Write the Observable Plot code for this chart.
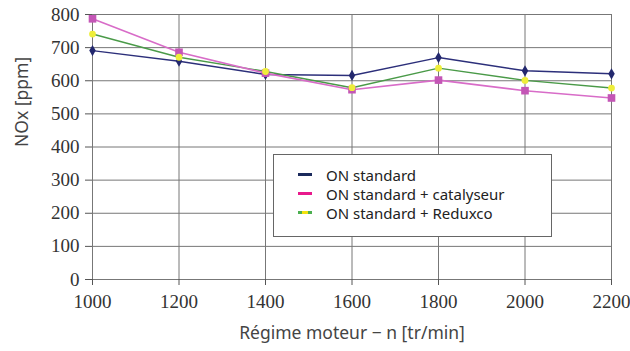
<!DOCTYPE html>
<html>
<head>
<meta charset="utf-8">
<script src="https://cdn.jsdelivr.net/npm/d3@7"></script>
<script src="https://cdn.jsdelivr.net/npm/@observablehq/plot@0.6"></script>
<style>
  html, body { margin: 0; padding: 0; background: #fff; }
  #wrap { position: relative; width: 630px; height: 351px; }
  #wrap svg { display: block; }
  #legend {
    position: absolute; left: 273px; top: 154px; width: 279px; height: 83px;
    box-sizing: border-box; background: #fff; border: 1px solid #666;
    font-family: "Noto Sans", sans-serif; font-size: 15px; color: #222;
    padding-top: 10px;
  }
  .row { display: flex; align-items: center; height: 19px; }
  .sw { width: 14px; height: 3px; margin-left: 24px; margin-right: 14px; }
</style>
</head>
<body>
<div id="wrap"></div>
<script>
const regimes = [1000, 1200, 1400, 1600, 1800, 2000, 2200];
const seriesNames = ["ON standard", "ON standard + catalyseur", "ON standard + Reduxco"];
const onStandard = [691, 659, 619, 616, 670, 630, 621];
const catalyseur = [787, 686, 623, 573, 602, 570, 548];
const reduxco = [741, 671, 628, 579, 638, 601, 578];
const xTicks = [1000, 1200, 1400, 1600, 1800, 2000, 2200];
const yTicks = [0, 100, 200, 300, 400, 500, 600, 700, 800];
const xTitle = "Régime moteur − n [tr/min]";
const yTitle = "NOx [ppm]";

const rows = (vals, s) => regimes.map((r, i) => ({regime: r, nox: vals[i], serie: s}));
const dStd = rows(onStandard, seriesNames[0]);
const dCat = rows(catalyseur, seriesNames[1]);
const dRed = rows(reduxco, seriesNames[2]);

const serif = "Liberation Serif";
const sans = "Noto Sans";

const chart = Plot.plot({
  width: 630, height: 351,
  marginLeft: 92, marginRight: 19, marginTop: 14, marginBottom: 72,
  x: {domain: [1000, 2200]},
  y: {domain: [0, 800]},
  marks: [
    Plot.gridX(xTicks, {stroke: "#777", strokeOpacity: 1}),
    Plot.gridY(yTicks, {stroke: "#777", strokeOpacity: 1}),
    Plot.axisX(xTicks, {tickSize: 6, stroke: "#555", tickFormat: () => "", label: null}),
    Plot.axisY(yTicks, {tickSize: 7, stroke: "#555", tickFormat: () => "", label: null}),
    Plot.text(xTicks, {x: d => d, frameAnchor: "bottom", dy: 28, text: d => String(d),
      fontFamily: serif, fontSize: 19, fill: "#333"}),
    Plot.text(yTicks, {y: d => d, frameAnchor: "left", dx: -13, textAnchor: "end", text: d => String(d),
      fontFamily: serif, fontSize: 19, fill: "#333"}),
    Plot.text([xTitle], {frameAnchor: "bottom", dy: 59, fontFamily: sans, fontSize: 17.5, fill: "#444"}),
    Plot.text([yTitle], {frameAnchor: "left", dx: -70, rotate: -90, fontFamily: sans, fontSize: 17.5, fill: "#444"}),
    Plot.line(dStd, {x: "regime", y: "nox", stroke: "#2c2f7a", strokeWidth: 1.4}),
    Plot.line(dRed, {x: "regime", y: "nox", stroke: "#4a9a48", strokeWidth: 1.4}),
    Plot.line(dCat, {x: "regime", y: "nox", stroke: "#d86cc8", strokeWidth: 1.6}),
    Plot.dot(dStd, {x: "regime", y: "nox", symbol: "diamond", r: 3.4, fill: "#23286e"}),
    Plot.dot(dCat, {x: "regime", y: "nox", symbol: "square", r: 4.3, fill: "#c456b6"}),
    Plot.dot(dRed, {x: "regime", y: "nox", symbol: "circle", r: 3.4, fill: "#eeee3a"})
  ]
});
const wrap = document.getElementById("wrap");
wrap.appendChild(chart);

const legend = document.createElement("div");
legend.id = "legend";
const swatches = [
  "background:#1b2a5c",
  "background:#e8198c",
  "background:linear-gradient(90deg,#4caf50 0 25%,#f2e20f 25% 75%,#4caf50 75% 100%)"
];
seriesNames.forEach((n, i) => {
  const row = document.createElement("div");
  row.className = "row";
  const sw = document.createElement("span");
  sw.className = "sw";
  sw.setAttribute("style", swatches[i]);
  const t = document.createElement("span");
  t.textContent = n;
  row.appendChild(sw); row.appendChild(t);
  legend.appendChild(row);
});
wrap.appendChild(legend);
</script>
</body>
</html>
